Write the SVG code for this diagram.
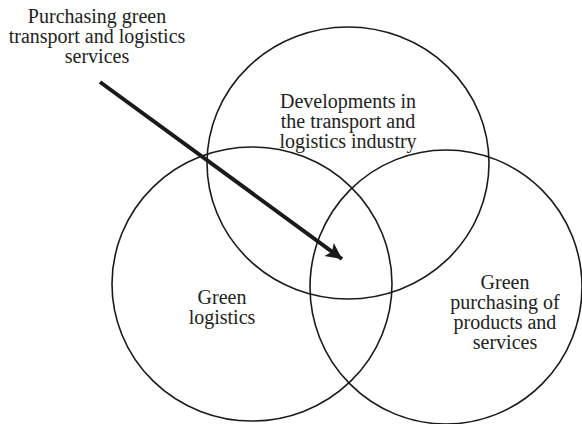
<svg xmlns="http://www.w3.org/2000/svg" width="582" height="424" viewBox="0 0 582 424">
<style>
.c{fill:none;stroke:#1a1a1a;stroke-width:1.6}
text{font-family:"Liberation Serif","Times New Roman",serif;font-size:20px;fill:#222;text-anchor:middle}
</style>
<defs>
<marker id="ah" markerWidth="4.5" markerHeight="4" refX="4" refY="2" orient="auto" markerUnits="strokeWidth" overflow="visible">
<path d="M0,0 L4,2 L0,4 L0.9,2 Z" fill="#1a1a1a"/>
</marker>
</defs>
<rect width="582" height="424" fill="#fff"/>
<g id="top-circle">
<ellipse class="c" cx="348" cy="163" rx="141" ry="136"/>
<text x="348" y="108">Developments in</text>
<text x="348" y="128">the transport and</text>
<text x="348" y="148">logistics industry</text>
</g>
<g id="left-circle">
<ellipse class="c" cx="252" cy="284" rx="140" ry="137"/>
<text x="222" y="304">Green</text>
<text x="222" y="324">logistics</text>
</g>
<g id="right-circle">
<ellipse class="c" cx="446" cy="287" rx="136" ry="137"/>
<text x="505" y="289">Green</text>
<text x="505" y="309">purchasing of</text>
<text x="505" y="329">products and</text>
<text x="505" y="349">services</text>
</g>
<g id="label">
<text x="97" y="23">Purchasing green</text>
<text x="97" y="43">transport and logistics</text>
<text x="97" y="63">services</text>
</g>
<g id="connectors">
<line x1="100" y1="82" x2="342" y2="259" stroke="#1a1a1a" stroke-width="4" marker-end="url(#ah)"/>
</g>
</svg>
